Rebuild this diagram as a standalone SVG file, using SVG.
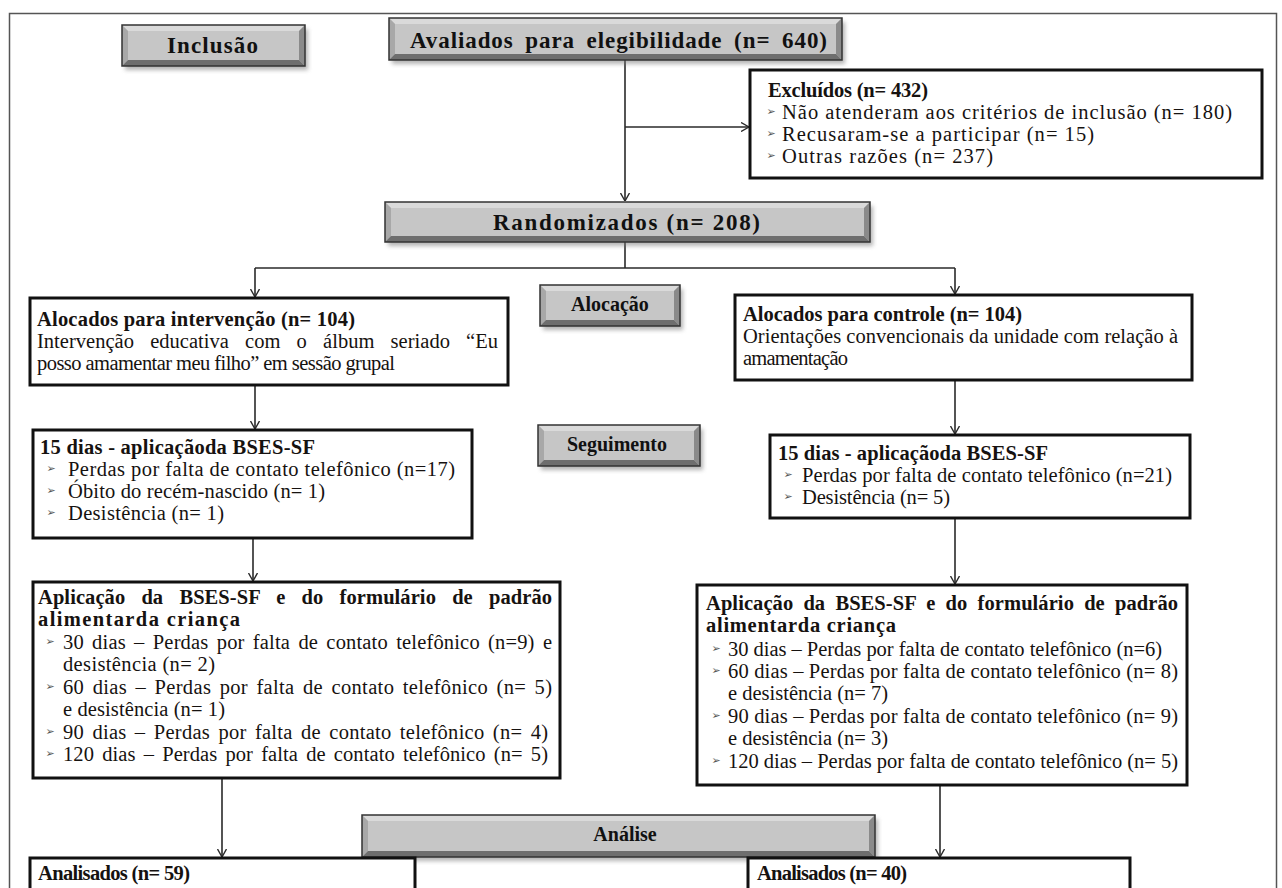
<svg xmlns="http://www.w3.org/2000/svg" width="1282" height="888" viewBox="0 0 1282 888">
<defs>
<style>
.frame{fill:none;stroke:#555;stroke-width:1.5}
.box{fill:#fff;stroke:#111;stroke-width:3}
.conn{fill:none;stroke:#2a2a2a;stroke-width:1.6}
.t{font-family:"Liberation Serif","Times New Roman",serif;font-size:20.5px;fill:#161210}
.b{font-weight:bold}
.bh{font-family:"Liberation Serif","Times New Roman",serif;font-weight:bold;fill:#111}
.bul{font-family:"DejaVu Sans",sans-serif;font-size:11px;fill:#555}
.bf{fill:#c6c6c6}
.bt{fill:#dadada}
.bl{fill:#a8a8a8}
.br{fill:#8a8a8a}
.bb{fill:#6e6e6e}
.bo{fill:none;stroke:#333;stroke-width:1.5}
.sh{fill:#777;opacity:.55;filter:url(#blur)}
</style>
<filter id="blur" x="-10%" y="-30%" width="120%" height="160%"><feGaussianBlur stdDeviation="2"/></filter>
<marker id="arr" viewBox="0 0 8 10" refX="8" refY="5" markerWidth="8" markerHeight="10" markerUnits="userSpaceOnUse" orient="auto"><path d="M0,0.5 L8,5 L0,9.5" fill="none" stroke="#2a2a2a" stroke-width="1.4"/></marker>
</defs>
<rect width="1282" height="888" fill="#fff"/>
<rect class="frame" x="9.5" y="13.5" width="1267" height="900"/>

<g id="connectors">
<path class="conn" d="M625,60 V201" marker-end="url(#arr)"/>
<path class="conn" d="M625,127 H749" marker-end="url(#arr)"/>
<path class="conn" d="M625,242 V268"/>
<path class="conn" d="M255,268 H955"/>
<path class="conn" d="M255,268 V297" marker-end="url(#arr)"/>
<path class="conn" d="M955,268 V294" marker-end="url(#arr)"/>
<path class="conn" d="M255,385 V429" marker-end="url(#arr)"/>
<path class="conn" d="M955,380 V434" marker-end="url(#arr)"/>
<path class="conn" d="M253,538 V581" marker-end="url(#arr)"/>
<path class="conn" d="M955,518 V584" marker-end="url(#arr)"/>
<path class="conn" d="M222,778 V857" marker-end="url(#arr)"/>
<path class="conn" d="M940,785 V857" marker-end="url(#arr)"/>
</g>

<g id="inclusao">
<rect class="sh" x="125" y="29" width="183" height="41"/>
<rect class="bf" x="122" y="25" width="183" height="41"/>
<polygon class="bt" points="122,25 305,25 299,31 128,31"/>
<polygon class="bl" points="122,25 128,31 128,60 122,66"/>
<polygon class="br" points="305,25 305,66 299,60 299,31"/>
<polygon class="bb" points="122,66 128,60 299,60 305,66"/>
<rect class="bo" x="122" y="25" width="183" height="41"/>
<text class="bh" x="167" y="53" font-size="23" textLength="91" lengthAdjust="spacing">Inclusão</text>
</g>

<g id="avaliados">
<rect class="sh" x="392" y="22" width="453" height="42"/>
<rect class="bf" x="389" y="18" width="453" height="42"/>
<polygon class="bt" points="389,18 842,18 836,24 395,24"/>
<polygon class="bl" points="389,18 395,24 395,54 389,60"/>
<polygon class="br" points="842,18 842,60 836,54 836,24"/>
<polygon class="bb" points="389,60 395,54 836,54 842,60"/>
<rect class="bo" x="389" y="18" width="453" height="42"/>
<text class="bh" x="410" y="48" font-size="23" word-spacing="5" textLength="417" lengthAdjust="spacing">Avaliados para elegibilidade (n= 640)</text>
</g>

<g id="excluidos">
<rect class="box" x="750" y="70" width="512" height="108"/>
<text class="t b" x="768" y="97" textLength="160" lengthAdjust="spacing">Excluídos (n= 432)</text>
<text class="bul" x="771" y="115" text-anchor="middle">➢</text>
<text class="t" x="782" y="119" textLength="450" lengthAdjust="spacing">Não atenderam aos critérios de inclusão (n= 180)</text>
<text class="bul" x="771" y="137" text-anchor="middle">➢</text>
<text class="t" x="782" y="141" textLength="312" lengthAdjust="spacing">Recusaram-se  a participar (n= 15)</text>
<text class="bul" x="771" y="159" text-anchor="middle">➢</text>
<text class="t" x="782" y="163" textLength="211" lengthAdjust="spacing">Outras razões (n= 237)</text>
</g>

<g id="randomizados">
<rect class="sh" x="388" y="206" width="485" height="40"/>
<rect class="bf" x="385" y="202" width="485" height="40"/>
<polygon class="bt" points="385,202 870,202 864,208 391,208"/>
<polygon class="bl" points="385,202 391,208 391,236 385,242"/>
<polygon class="br" points="870,202 870,242 864,236 864,208"/>
<polygon class="bb" points="385,242 391,236 864,236 870,242"/>
<rect class="bo" x="385" y="202" width="485" height="40"/>
<text class="bh" x="493" y="230" font-size="23" textLength="267" lengthAdjust="spacing">Randomizados  (n= 208)</text>
</g>

<g id="alocacao">
<rect class="sh" x="543" y="289" width="140" height="41"/>
<rect class="bf" x="540" y="285" width="140" height="41"/>
<polygon class="bt" points="540,285 680,285 674,291 546,291"/>
<polygon class="bl" points="540,285 546,291 546,320 540,326"/>
<polygon class="br" points="680,285 680,326 674,320 674,291"/>
<polygon class="bb" points="540,326 546,320 674,320 680,326"/>
<rect class="bo" x="540" y="285" width="140" height="41"/>
<text class="bh" x="610" y="311" font-size="20" text-anchor="middle">Alocação</text>
</g>

<g id="alocados-intervencao">
<rect class="box" x="30" y="298" width="478" height="87"/>
<text class="t b" x="37" y="326" textLength="318" lengthAdjust="spacing">Alocados para intervenção (n= 104)</text>
<text class="t" x="37" y="348" word-spacing="11" textLength="461" lengthAdjust="spacing">Intervenção educativa com o álbum seriado “Eu</text>
<text class="t" x="37" y="370" textLength="358" lengthAdjust="spacing">posso amamentar meu filho” em sessão grupal</text>
</g>

<g id="alocados-controle">
<rect class="box" x="735" y="295" width="457" height="85"/>
<text class="t b" x="743" y="321" textLength="279" lengthAdjust="spacing">Alocados para controle (n= 104)</text>
<text class="t" x="743" y="343" textLength="435" lengthAdjust="spacing">Orientações convencionais da unidade com relação à</text>
<text class="t" x="743" y="365" textLength="105" lengthAdjust="spacing">amamentação</text>
</g>

<g id="seguimento">
<rect class="sh" x="541" y="429" width="162" height="41"/>
<rect class="bf" x="538" y="425" width="162" height="41"/>
<polygon class="bt" points="538,425 700,425 694,431 544,431"/>
<polygon class="bl" points="538,425 544,431 544,460 538,466"/>
<polygon class="br" points="700,425 700,466 694,460 694,431"/>
<polygon class="bb" points="538,466 544,460 694,460 700,466"/>
<rect class="bo" x="538" y="425" width="162" height="41"/>
<text class="bh" x="617" y="451" font-size="20" text-anchor="middle">Seguimento</text>
</g>

<g id="dias15-intervencao">
<rect class="box" x="33" y="430" width="439" height="108"/>
<text class="t b" x="40" y="454" textLength="275" lengthAdjust="spacing">15 dias - aplicaçãoda BSES-SF</text>
<text class="bul" x="51" y="472" text-anchor="middle">➢</text>
<text class="t" x="68" y="476" textLength="387" lengthAdjust="spacing">Perdas por falta de contato telefônico (n=17)</text>
<text class="bul" x="51" y="494" text-anchor="middle">➢</text>
<text class="t" x="68" y="498" textLength="257" lengthAdjust="spacing">Óbito do recém-nascido (n= 1)</text>
<text class="bul" x="51" y="516" text-anchor="middle">➢</text>
<text class="t" x="68" y="520" textLength="156" lengthAdjust="spacing">Desistência (n= 1)</text>
</g>

<g id="dias15-controle">
<rect class="box" x="770" y="435" width="420" height="83"/>
<text class="t b" x="778" y="460" textLength="270" lengthAdjust="spacing">15 dias - aplicaçãoda BSES-SF</text>
<text class="bul" x="788" y="478" text-anchor="middle">➢</text>
<text class="t" x="802" y="482" textLength="370" lengthAdjust="spacing">Perdas por falta de contato telefônico (n=21)</text>
<text class="bul" x="788" y="500" text-anchor="middle">➢</text>
<text class="t" x="802" y="504" textLength="148" lengthAdjust="spacing">Desistência (n= 5)</text>
</g>

<g id="aplicacao-intervencao">
<rect class="box" x="33" y="582" width="527" height="196"/>
<text class="t b" x="38" y="604" word-spacing="11" textLength="514" lengthAdjust="spacing">Aplicação da BSES-SF e do formulário de padrão</text>
<text class="t b" x="38" y="626" textLength="202" lengthAdjust="spacing">alimentarda criança</text>
<text class="bul" x="50" y="645" text-anchor="middle">➢</text>
<text class="t" x="63" y="649" word-spacing="3" textLength="489" lengthAdjust="spacing">30 dias – Perdas por falta de contato telefônico (n=9) e</text>
<text class="t" x="63" y="671" textLength="152" lengthAdjust="spacing">desistência (n= 2)</text>
<text class="bul" x="50" y="690" text-anchor="middle">➢</text>
<text class="t" x="63" y="694" word-spacing="3" textLength="489" lengthAdjust="spacing">60 dias –  Perdas por falta de contato telefônico (n= 5)</text>
<text class="t" x="63" y="716" textLength="162" lengthAdjust="spacing">e desistência (n= 1)</text>
<text class="bul" x="50" y="735" text-anchor="middle">➢</text>
<text class="t" x="63" y="739" word-spacing="3" textLength="485" lengthAdjust="spacing">90 dias –  Perdas por falta de contato telefônico (n= 4)</text>
<text class="bul" x="50" y="757" text-anchor="middle">➢</text>
<text class="t" x="63" y="761" word-spacing="3" textLength="485" lengthAdjust="spacing">120 dias – Perdas por falta de contato telefônico (n= 5)</text>
</g>

<g id="aplicacao-controle">
<rect class="box" x="697" y="585" width="490" height="200"/>
<text class="t b" x="706" y="610" word-spacing="5" textLength="472" lengthAdjust="spacing">Aplicação da BSES-SF e do formulário de padrão</text>
<text class="t b" x="706" y="632" textLength="190" lengthAdjust="spacing">alimentarda criança</text>
<text class="bul" x="716" y="652" text-anchor="middle">➢</text>
<text class="t" x="728" y="656" textLength="434" lengthAdjust="spacing">30 dias – Perdas por falta de contato telefônico (n=6)</text>
<text class="bul" x="716" y="674" text-anchor="middle">➢</text>
<text class="t" x="728" y="678" textLength="450" lengthAdjust="spacing">60 dias – Perdas por falta de contato telefônico (n= 8)</text>
<text class="t" x="728" y="700" textLength="160" lengthAdjust="spacing">e desistência (n= 7)</text>
<text class="bul" x="716" y="719" text-anchor="middle">➢</text>
<text class="t" x="728" y="723" textLength="450" lengthAdjust="spacing">90 dias –  Perdas por falta de contato telefônico (n= 9)</text>
<text class="t" x="728" y="745" textLength="160" lengthAdjust="spacing">e desistência (n= 3)</text>
<text class="bul" x="716" y="764" text-anchor="middle">➢</text>
<text class="t" x="728" y="768" textLength="450" lengthAdjust="spacing">120 dias – Perdas por falta de contato telefônico (n= 5)</text>
</g>

<g id="analise">
<rect class="sh" x="365" y="819" width="513" height="42"/>
<rect class="bf" x="362" y="815" width="513" height="42"/>
<polygon class="bt" points="362,815 875,815 869,821 368,821"/>
<polygon class="bl" points="362,815 368,821 368,851 362,857"/>
<polygon class="br" points="875,815 875,857 869,851 869,821"/>
<polygon class="bb" points="362,857 368,851 869,851 875,857"/>
<rect class="bo" x="362" y="815" width="513" height="42"/>
<text class="bh" x="625" y="841" font-size="20" text-anchor="middle">Análise</text>
</g>

<g id="analisados-intervencao">
<rect class="box" x="30" y="858" width="385" height="60"/>
<text class="t b" x="38" y="880" textLength="152" lengthAdjust="spacing">Analisados (n= 59)</text>
</g>

<g id="analisados-controle">
<rect class="box" x="748" y="858" width="382" height="60"/>
<text class="t b" x="757" y="880" textLength="150" lengthAdjust="spacing">Analisados (n= 40)</text>
</g>
</svg>
